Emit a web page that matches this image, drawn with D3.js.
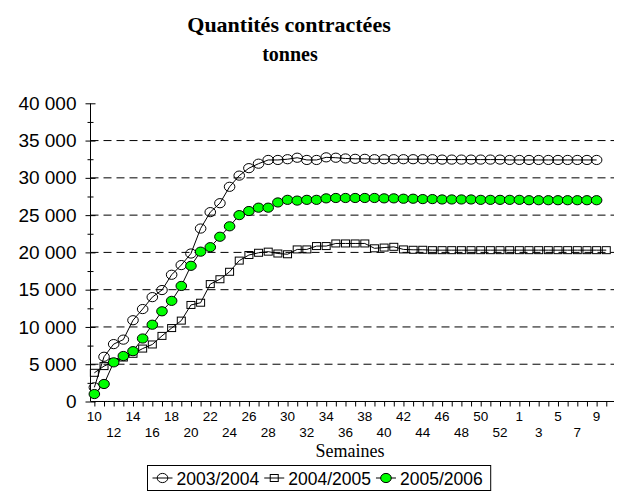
<!DOCTYPE html>
<html>
<head>
<meta charset="utf-8">
<script src="https://cdn.jsdelivr.net/npm/d3@7"></script>
<style>
  body { margin: 0; background: #fff; }
  .serif { font-family: "Liberation Serif", "Times New Roman", serif; }
  .sans { font-family: "Liberation Sans", Arial, sans-serif; }
</style>
</head>
<body>
<div id="chart"></div>
<script>
// week labels (index on the x axis)
const weeks = [10, 11, 12, 13, 14, 15, 16, 17, 18, 19, 20, 21, 22, 23, 24, 25, 26, 27, 28, 29,
  30, 31, 32, 33, 34, 35, 36, 37, 38, 39, 40, 41, 42, 43, 44, 45, 46, 47, 48, 49, 50, 51, 52, 53,
  1, 2, 3, 4, 5, 6, 7, 8, 9, 10];

const yTicks = [0, 5000, 10000, 15000, 20000, 25000, 30000, 35000, 40000];
const yMinor = [2500, 7500, 12500, 17500, 22500, 27500, 32500, 37500];
const gridValues = [5000, 10000, 15000, 20000, 25000, 30000, 35000];

const seriesNames = ["2003/2004", "2004/2005", "2005/2006"];

const s2003 = [1900, 6000, 7700, 8300, 10900, 12400, 14000, 14950, 17000, 18300,
  19850, 23200, 25400, 26600, 28800, 30300, 31300, 31900, 32400, 32400,
  32500, 32700, 32400, 32400, 32750, 32700, 32600, 32550, 32550, 32500,
  32500, 32500, 32500, 32500, 32500, 32500, 32450, 32450, 32450, 32450,
  32450, 32450, 32450, 32400, 32400, 32400, 32400, 32400, 32400, 32400,
  32400, 32400, 32400];

const s2004 = [3850, 4750, 5300, 5900, 6400, 7100, 7650, 8800, 9850, 10850,
  12950, 13250, 15750, 16400, 17400, 18900, 19650, 19950, 20100, 19850,
  19750, 20400, 20400, 20850, 20850, 21200, 21200, 21200, 21200, 20550,
  20650, 20750, 20400, 20350, 20350, 20300, 20300, 20300, 20300, 20300,
  20300, 20300, 20300, 20300, 20300, 20300, 20300, 20300, 20300, 20300,
  20300, 20300, 20300, 20300];

const s2005 = [1000, 2350, 5250, 6100, 6750, 8450, 10300, 12100, 13500, 15500,
  18200, 20100, 20700, 22100, 23500, 25000, 25550, 26000, 26000, 26700,
  27050, 26950, 27050, 27050, 27250, 27300, 27300, 27300, 27300, 27300,
  27250, 27250, 27200, 27200, 27150, 27150, 27100, 27100, 27100, 27100,
  27050, 27050, 27050, 27050, 27050, 27000, 27000, 27000, 27000, 27000,
  27000, 27000, 27000];

const W = 621, H = 497;
const plot = { left: 90.5, right: 614, top: 103.3, bottom: 401.5 };

const svg = d3.select("#chart").append("svg")
  .attr("width", W).attr("height", H);

svg.append("rect").attr("width", W).attr("height", H).attr("fill", "#fff");

const x = d3.scaleLinear().domain([-0.4, 53.8]).range([plot.left, plot.right]);
const y = d3.scaleLinear().domain([0, 40000]).range([plot.bottom, plot.top]);

const fr = d3.formatLocale({ decimal: ",", thousands: " ", grouping: [3], currency: ["", ""] });
const fmt = fr.format(",");

// titles
svg.append("text").attr("class", "serif")
  .attr("x", 289).attr("y", 32).attr("text-anchor", "middle")
  .attr("font-size", 22).attr("font-weight", "bold")
  .text("Quantités contractées");
svg.append("text").attr("class", "serif")
  .attr("x", 290).attr("y", 61).attr("text-anchor", "middle")
  .attr("font-size", 20).attr("font-weight", "bold")
  .text("tonnes");

// dashed grid
svg.append("g").selectAll("line").data(gridValues).join("line")
  .attr("x1", plot.left).attr("x2", plot.right)
  .attr("y1", d => y(d)).attr("y2", d => y(d))
  .attr("stroke", "#000").attr("stroke-width", 1)
  .attr("stroke-dasharray", "8,5");

// y axis (ticks cross the axis line)
const yAxis = svg.append("g").attr("class", "sans")
  .attr("transform", `translate(${plot.left},0)`)
  .call(d3.axisLeft(y).tickValues(yTicks).tickSize(5).tickPadding(9).tickFormat(fmt));
yAxis.select(".domain").remove();
yAxis.selectAll("text").attr("font-size", 19).attr("fill", "#000");
svg.append("g").attr("transform", `translate(${plot.left},0)`)
  .call(d3.axisRight(y).tickValues(yTicks).tickSize(5).tickFormat(""))
  .select(".domain").remove();
svg.append("g").attr("transform", `translate(${plot.left},0)`)
  .call(d3.axisLeft(y).tickValues(yMinor).tickSize(3).tickFormat(""))
  .select(".domain").remove();
svg.append("g").attr("transform", `translate(${plot.left},0)`)
  .call(d3.axisRight(y).tickValues(yMinor).tickSize(3).tickFormat(""))
  .select(".domain").remove();
svg.append("line")
  .attr("x1", plot.left).attr("x2", plot.left)
  .attr("y1", plot.top).attr("y2", plot.bottom)
  .attr("stroke", "#000");

// x axis
const xAxis = svg.append("g")
  .attr("transform", `translate(0,${plot.bottom})`)
  .call(d3.axisBottom(x).tickValues(d3.range(weeks.length)).tickSize(5).tickFormat(""));
xAxis.select(".domain").attr("d", `M${plot.left},0H${plot.right}`);

svg.append("g").attr("class", "sans").selectAll("text")
  .data(weeks.map((w, i) => ({ w, i })).filter(d => d.i % 2 === 0 && d.i < 53))
  .join("text")
  .attr("x", d => x(d.i))
  .attr("y", d => plot.bottom + (d.i % 4 === 0 ? 19 : 35))
  .attr("text-anchor", "middle")
  .attr("font-size", 13.5)
  .text(d => d.w);

svg.append("text").attr("class", "serif")
  .attr("x", 350).attr("y", 457).attr("text-anchor", "middle")
  .attr("font-size", 18)
  .text("Semaines");

// series
const line = d3.line().x((d, i) => x(i)).y(d => y(d));

const g = svg.append("g");
g.append("path").datum(s2003).attr("d", line)
  .attr("fill", "none").attr("stroke", "#000").attr("stroke-width", 1);
g.selectAll(".c03").data(s2003).join("ellipse").attr("class", "c03")
  .attr("cx", (d, i) => x(i)).attr("cy", d => y(d))
  .attr("rx", 5.3).attr("ry", 4.6)
  .attr("fill", "none").attr("stroke", "#000");

g.append("path").datum(s2004).attr("d", line)
  .attr("fill", "none").attr("stroke", "#000").attr("stroke-width", 1);
g.selectAll(".c04").data(s2004).join("rect").attr("class", "c04")
  .attr("x", (d, i) => x(i) - 4).attr("y", d => y(d) - 3.5)
  .attr("width", 8).attr("height", 7)
  .attr("fill", "none").attr("stroke", "#000");

g.append("path").datum(s2005).attr("d", line)
  .attr("fill", "none").attr("stroke", "#000").attr("stroke-width", 1);
g.selectAll(".c05").data(s2005).join("ellipse").attr("class", "c05")
  .attr("cx", (d, i) => x(i)).attr("cy", d => y(d))
  .attr("rx", 5.3).attr("ry", 4.6)
  .attr("fill", "#00ff00").attr("stroke", "#000");

// legend
const legend = svg.append("g").attr("class", "sans");
const box = legend.append("rect")
  .attr("fill", "#fff").attr("stroke", "#000");
const boxX = 147.5;
let lx = boxX + 5;
const ly = 478;
seriesNames.forEach((name, k) => {
  legend.append("line")
    .attr("x1", lx).attr("x2", lx + 20).attr("y1", ly).attr("y2", ly)
    .attr("stroke", "#000");
  if (k === 1) {
    legend.append("rect").attr("x", lx + 6).attr("y", ly - 3.5)
      .attr("width", 8).attr("height", 7).attr("fill", "none").attr("stroke", "#000");
  } else {
    legend.append("ellipse").attr("cx", lx + 10).attr("cy", ly)
      .attr("rx", 5.3).attr("ry", 4.6)
      .attr("fill", k === 2 ? "#00ff00" : "none").attr("stroke", "#000");
  }
  const t = legend.append("text").attr("x", lx + 24).attr("y", ly + 6.5)
    .attr("font-size", 17.5).text(name);
  lx += 24 + t.node().getComputedTextLength() + 5;
});
box.attr("x", boxX).attr("y", 465.5).attr("width", lx - boxX + 3).attr("height", 25);
</script>
</body>
</html>
